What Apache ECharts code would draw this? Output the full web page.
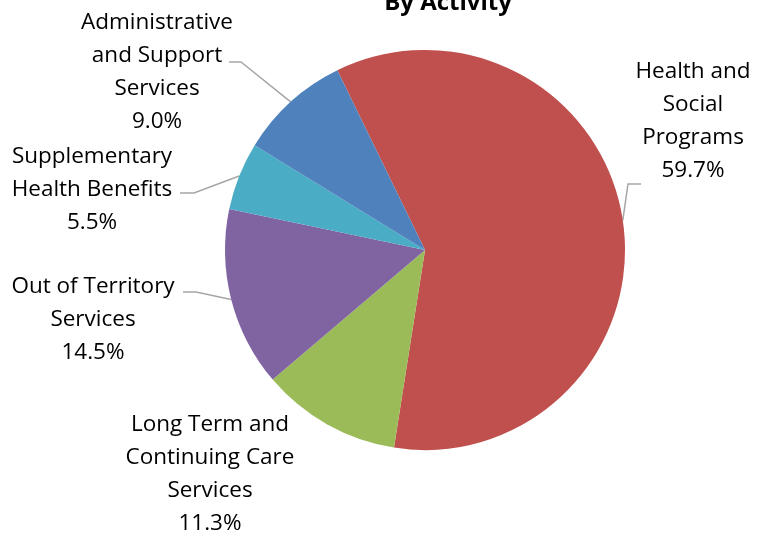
<!DOCTYPE html>
<html><head><meta charset="utf-8">
<script src="https://cdn.jsdelivr.net/npm/echarts@6/dist/echarts.min.js"></script>
<style>html,body{margin:0;padding:0;background:#fff}#c{width:768px;height:533px}</style>
</head><body><div id="c"></div>
<script>
const categories = ['Health and\nSocial\nPrograms', 'Long Term and\nContinuing Care\nServices', 'Out of Territory\nServices', 'Supplementary\nHealth Benefits', 'Administrative\nand Support\nServices'];
const values = [59.7, 11.3, 14.5, 5.5, 9.0];
const colors = ['#C0504D', '#9BBB59', '#8064A2', '#4BACC6', '#4F81BD'];
// label centres and leader-line elbow/end (layout only)
const labelPos = [[693, 121], [210, 474], [93, 320], [92, 190], [157, 72]];
const leaders = [[[628, 184], [641, 184]], null, [[196, 292], [183, 292]], [[194, 193], [180, 193]], [[241, 62], [229, 62]]];

const FONT = 'Open Sans';
const chart = echarts.init(document.getElementById('c'));
chart.setOption({
  animation: false,
  title: {text: 'By Activity', left: 443, top: -14, textAlign: 'center',
    textStyle: {fontFamily: FONT, fontWeight: 'bold', fontSize: 24, color: '#000'}},
  series: [{
    type: 'pie', center: [425, 250], radius: 200,
    startAngle: 116, clockwise: true,
    data: categories.map((n, i) => ({name: n, value: values[i], itemStyle: {color: colors[i]},
      labelLine: {show: !!leaders[i]}})),
    itemStyle: {borderWidth: 0},
    label: {show: true, position: 'outside', fontFamily: FONT, fontSize: 22.5, color: '#000',
      lineHeight: 33, align: 'center', overflow: 'none',
      formatter: p => p.name + '\n' + p.value.toFixed(1) + '%'},
    labelLine: {show: true, lineStyle: {color: '#A6A6A6', width: 1.5}, length: 15, length2: 12},
    labelLayout: p => {
      const i = p.dataIndex;
      const o = {x: labelPos[i][0], y: labelPos[i][1], align: 'center', verticalAlign: 'middle'};
      if (leaders[i] && p.labelLinePoints) o.labelLinePoints = [p.labelLinePoints[0], leaders[i][0], leaders[i][1]];
      return o;
    }
  }]
});
</script></body></html>
